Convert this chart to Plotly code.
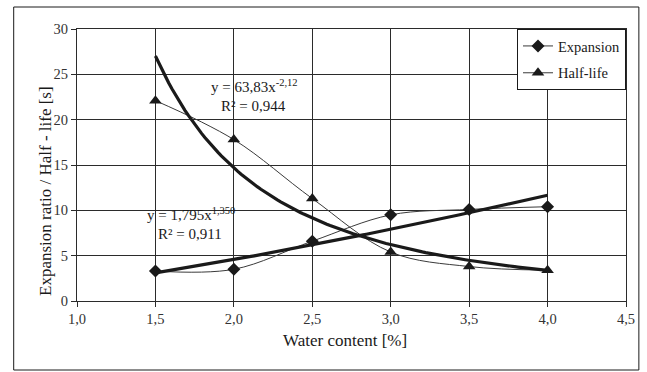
import numpy as np
import plotly.graph_objects as go

# ---- data ----
water = [1.5, 2.0, 2.5, 3.0, 3.5, 4.0]
expansion = [3.3, 3.5, 6.6, 9.5, 10.1, 10.4]
half_life = [22.1, 17.8, 11.3, 5.4, 3.8, 3.4]

# power trendlines y = a * x^b (coefficients as printed on the chart)
exp_a, exp_b = 1.795, 1.350
hl_a, hl_b = 63.83, -2.12

x_ticks = [1.0, 1.5, 2.0, 2.5, 3.0, 3.5, 4.0, 4.5]
x_ticklabels = ["1,0", "1,5", "2,0", "2,5", "3,0", "3,5", "4,0", "4,5"]
y_ticks = [0, 5, 10, 15, 20, 25, 30]

FONT = "Liberation Serif, Times New Roman, serif"
INK = "#1a1a1a"

xt = np.linspace(min(water), max(water), 120)

fig = go.Figure()
fig.add_trace(go.Scatter(
    x=water, y=expansion, mode="lines+markers", name="Expansion",
    line=dict(color="#3a3a3a", width=1, shape="spline"),
    marker=dict(symbol="diamond", size=10, color=INK),
    legendgroup="a"))
fig.add_trace(go.Scatter(
    x=water, y=half_life, mode="lines+markers", name="Half-life",
    line=dict(color="#3a3a3a", width=1, shape="spline"),
    marker=dict(symbol="triangle-up", size=11, color=INK),
    legendgroup="b"))
fig.add_trace(go.Scatter(
    x=xt, y=exp_a * xt ** exp_b, mode="lines", showlegend=False,
    line=dict(color=INK, width=3.2), hoverinfo="skip"))
fig.add_trace(go.Scatter(
    x=xt, y=hl_a * xt ** hl_b, mode="lines", showlegend=False,
    line=dict(color=INK, width=3.2), hoverinfo="skip"))

axis_common = dict(
    showgrid=True, gridcolor="#2b2b2b", gridwidth=1,
    showline=True, linecolor="#2b2b2b", linewidth=1, mirror=True,
    ticks="outside", ticklen=5, tickcolor="#2b2b2b",
    zeroline=False, tickfont=dict(family=FONT, size=14.5, color="#333333"),
)

fig.update_xaxes(range=[1.0, 4.5], tickvals=x_ticks, ticktext=x_ticklabels, **axis_common)
fig.update_yaxes(range=[0, 30], tickvals=y_ticks, **axis_common)

ann_font = dict(family=FONT, size=15, color=INK)
annotations = [
    dict(x=2.129, y=23.7, xref="x", yref="y",
         text="y = 63,83x<sup>-2,12</sup>", showarrow=False, font=ann_font),
    dict(x=2.123, y=21.5, xref="x", yref="y",
         text="R² = 0,944", showarrow=False, font=ann_font),
    dict(x=1.725, y=9.6, xref="x", yref="y",
         text="y = 1,795x<sup>1,350</sup>", showarrow=False, font=ann_font),
    dict(x=1.719, y=7.4, xref="x", yref="y",
         text="R² = 0,911", showarrow=False, font=ann_font),
    dict(x=(348 - 77) / 555, y=(301 - 352) / 272, xref="paper", yref="paper",
         text="Water content [%]", showarrow=False,
         font=dict(family=FONT, size=17, color=INK)),
    dict(x=(33 - 77) / 555, y=(301 - 191) / 272, xref="paper", yref="paper",
         text="Expansion ratio / Half - life [s]", showarrow=False, textangle=-90,
         font=dict(family=FONT, size=17, color=INK)),
]

shapes = [
    dict(type="rect", xref="paper", yref="paper",
         x0=(13 - 77) / 555, x1=(645 - 77) / 555,
         y0=(301 - 370) / 272, y1=(301 - 7) / 272,
         line=dict(color=INK, width=1), fillcolor="rgba(0,0,0,0)", layer="below"),
]

fig.update_layout(
    width=647, height=372,
    margin=dict(l=77, r=15, t=29, b=71),
    paper_bgcolor="white", plot_bgcolor="white",
    font=dict(family=FONT, color=INK),
    showlegend=True,
    legend=dict(x=1, xanchor="right", y=1, yanchor="top",
                bgcolor="white", bordercolor=INK, borderwidth=1,
                font=dict(family=FONT, size=14.5, color=INK),
                traceorder="grouped", tracegroupgap=5, itemwidth=30),
    annotations=annotations, shapes=shapes,
)

fig.write_html(
    "out.html",
    config={"displayModeBar": False},
    post_script="document.body.style.margin='0';document.body.style.overflow='hidden';",
)
